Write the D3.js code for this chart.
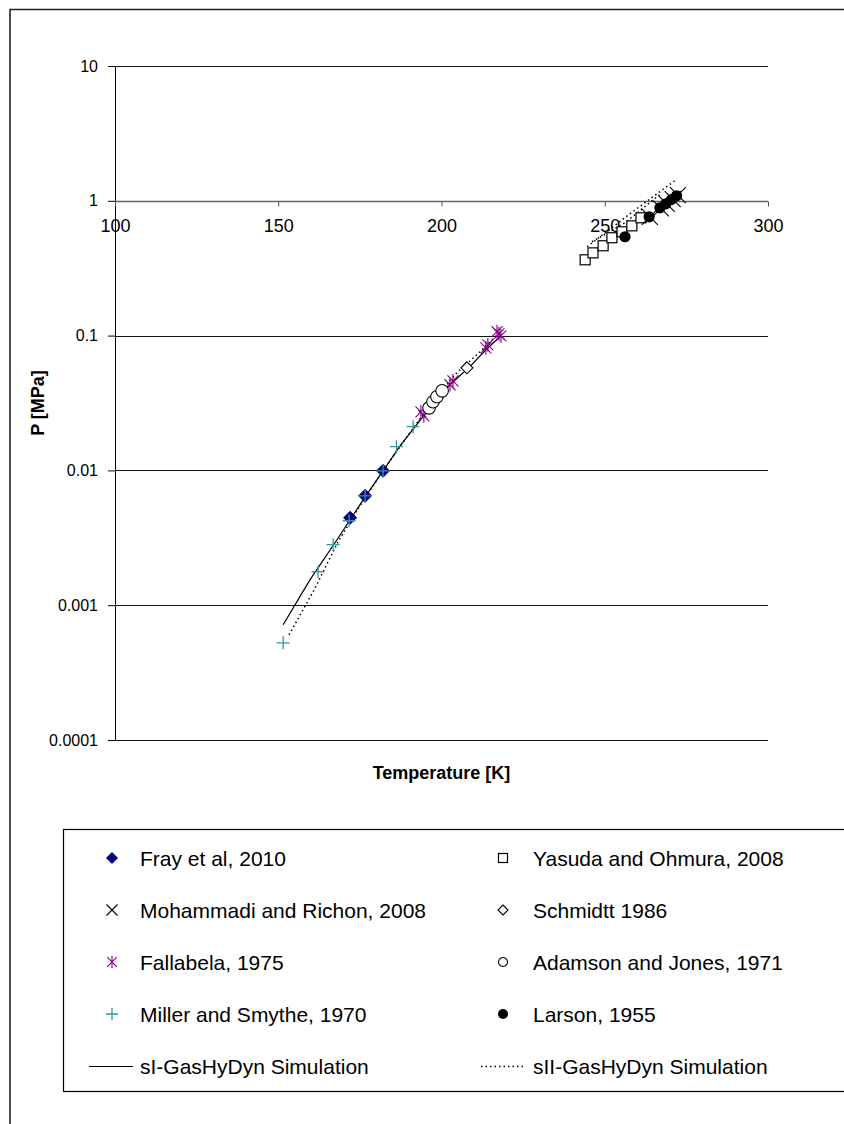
<!DOCTYPE html>
<html>
<head>
<meta charset="utf-8">
<script src="https://cdn.jsdelivr.net/npm/d3@7"></script>
<style>
  html, body { margin: 0; padding: 0; background: #fff; }
  svg { display: block; font-family: "Liberation Sans", Arial, sans-serif; }
</style>
</head>
<body>
<svg id="chart" width="844" height="1124"></svg>
<script>
// Hydrate dissociation pressure vs temperature (log pressure axis)
const xTicks = [100, 150, 200, 250, 300];
const yTicks = [0.0001, 0.001, 0.01, 0.1, 1, 10];
const yTickLabels = ["0.0001", "0.001", "0.01", "0.1", "1", "10"];

// Experimental data sets: temperature [K], pressure [MPa]
const frayT = [172.0, 176.6, 182.1];
const frayP = [0.00445, 0.00648, 0.00993];

const yasudaT = [244.0, 246.4, 249.5, 252.2, 255.3, 258.3, 261.1];
const yasudaP = [0.365, 0.411, 0.464, 0.532, 0.589, 0.652, 0.748];

const mohammadiT = [263.8, 267.2, 269.0, 270.8, 272.4];
const mohammadiP = [0.76, 0.88, 0.95, 1.03, 1.10];

const schmidttT = [207.8];
const schmidttP = [0.0577];

const fallabelaT = [193.7, 194.6, 202.6, 203.5, 213.6, 214.2, 217.0, 217.6, 218.2];
const fallabelaP = [0.0272, 0.0254, 0.0432, 0.0462, 0.0812, 0.0855, 0.107, 0.103, 0.0997];

const adamsonT = [196.2, 197.4, 198.6, 200.2];
const adamsonP = [0.0291, 0.0323, 0.0352, 0.0389];

const millerT = [151.5, 162.2, 166.8, 171.7, 176.6, 182.1, 186.2, 191.3];
const millerP = [0.000526, 0.00177, 0.00281, 0.00423, 0.00648, 0.00993, 0.0150, 0.0211];

const larsonT = [256.2, 263.6, 266.9, 268.7, 270.4, 272.0];
const larsonP = [0.541, 0.761, 0.887, 0.95, 1.02, 1.09];

// Simulation curves (null marks a break between branches)
const sIT = [151.5, 159.7, 168.0, 176.6, 182.1, 187.3, 194.3, 202.6, 208.7, 213.6, 217.9];
const sIP = [0.000716, 0.00154, 0.00306, 0.00637, 0.00993, 0.0152, 0.0250, 0.0432, 0.0588, 0.0785, 0.0980];

const sIIT = [153.3, 161.0, 168.3, 175.0, 182.1, 188.8, 196.5, 204.7, 211.8, 217.9, null,
              244.6, 257.7, 271.8, null,
              246.1, 256.2, 267.5];
const sIIP = [0.000603, 0.00130, 0.00295, 0.00546, 0.00993, 0.0169, 0.0307, 0.0530, 0.0758, 0.1067, null,
              0.456, 0.801, 1.43, null,
              0.497, 0.687, 1.146];

const zip = (T, P) => T.map((t, i) => ({ t, p: P[i] }));

const svg = d3.select("#chart");
const plotLeft = 115, plotRight = 768, plotTop = 66, plotBottom = 740;

const x = d3.scaleLinear().domain([100, 300]).range([plotLeft, plotRight]);
const y = d3.scaleLog().domain([0.0001, 10]).range([plotBottom, plotTop]);

// outer chart border
svg.append("path")
  .attr("d", "M10,1124 V9.5 H844")
  .attr("fill", "none").attr("stroke", "#222").attr("stroke-width", 1.6);

// horizontal gridlines + y ticks
const yAxis = d3.axisLeft(y).tickValues(yTicks)
  .tickFormat((d, i) => yTickLabels[i]).tickSize(7).tickSizeOuter(0);
const gy = svg.append("g").attr("transform", `translate(${plotLeft},0)`).call(yAxis);
gy.select(".domain").attr("stroke", "#000");
gy.selectAll(".tick line").attr("stroke", "#000");
gy.selectAll(".tick text").attr("font-size", 16).attr("fill", "#000")
  .attr("font-family", "Liberation Sans, Arial, sans-serif").attr("x", -17);

svg.append("g").selectAll("line").data(yTicks).join("line")
  .attr("x1", plotLeft).attr("x2", plotRight)
  .attr("y1", d => Math.round(y(d)) + 0.5).attr("y2", d => Math.round(y(d)) + 0.5)
  .attr("stroke", d => (d === 1 ? "#666" : "#111")).attr("stroke-width", d => (d === 1 ? 1.6 : 1.1));

// horizontal axis crosses at P = 1
const xAxis = d3.axisBottom(x).tickValues(xTicks).tickFormat(d3.format("d"))
  .tickSize(5).tickSizeOuter(0);
const gx = svg.append("g").attr("transform", `translate(0,${Math.round(y(1)) + 0.5})`).call(xAxis);
gx.select(".domain").remove();
gx.selectAll(".tick line").attr("stroke", "#555");
gx.selectAll(".tick text").attr("font-size", 18).attr("fill", "#000")
  .attr("font-family", "Liberation Sans, Arial, sans-serif").attr("y", 18);

// axis titles
svg.append("text").attr("x", (plotLeft + plotRight) / 2).attr("y", 779)
  .attr("text-anchor", "middle").attr("font-size", 18).attr("font-weight", "bold")
  .text("Temperature [K]");
svg.append("text").attr("transform", `translate(44,${(plotTop + plotBottom) / 2}) rotate(-90)`)
  .attr("text-anchor", "middle").attr("font-size", 18).attr("font-weight", "bold")
  .text("P [MPa]");

// simulation lines
const line = d3.line().defined(d => d.t !== null).x(d => x(d.t)).y(d => y(d.p));
const plot = svg.append("g");
plot.append("path").datum(zip(sIT, sIP)).attr("d", line)
  .attr("fill", "none").attr("stroke", "#000").attr("stroke-width", 1.2);
plot.append("path").datum(zip(sIIT, sIIP)).attr("d", line)
  .attr("fill", "none").attr("stroke", "#000").attr("stroke-width", 1.5)
  .attr("stroke-dasharray", "1.5,3");

// marker drawers
const markers = {
  diamond: (g, s) => g.append("path").attr("d", `M0,${-s}L${s},0L0,${s}L${-s},0Z`)
    .attr("fill", "#000080").attr("stroke", "#000080"),
  square: (g, s) => g.append("rect").attr("x", -s).attr("y", -s).attr("width", 2 * s).attr("height", 2 * s)
    .attr("fill", "#fff").attr("stroke", "#000").attr("stroke-width", 1.2),
  cross: (g, s) => g.append("path").attr("d", `M${-s},${-s}L${s},${s}M${-s},${s}L${s},${-s}`)
    .attr("stroke", "#000").attr("stroke-width", 1.1),
  odiamond: (g, s) => g.append("path").attr("d", `M0,${-s}L${s},0L0,${s}L${-s},0Z`)
    .attr("fill", "#fff").attr("stroke", "#000").attr("stroke-width", 1.1),
  star: (g, s) => g.append("path").attr("d", `M${-s},${-s}L${s},${s}M${-s},${s}L${s},${-s}M0,${-s * 1.25}L0,${s * 1.25}`)
    .attr("stroke", "#800080").attr("stroke-width", 1.1),
  circle: (g, s) => g.append("circle").attr("r", s)
    .attr("fill", "#fff").attr("stroke", "#000").attr("stroke-width", 1.1),
  plus: (g, s) => g.append("path").attr("d", `M${-s},0L${s},0M0,${-s}L0,${s}`)
    .attr("stroke", "#339999").attr("stroke-width", 1.3),
  dot: (g, s) => g.append("circle").attr("r", s).attr("fill", "#000")
};

const series = [
  { name: "Fray et al, 2010", T: frayT, P: frayP, m: "diamond", s: 6.5, ls: 5.5 },
  { name: "Yasuda and Ohmura, 2008", T: yasudaT, P: yasudaP, m: "square", s: 5, ls: 4.5 },
  { name: "Mohammadi and Richon, 2008", T: mohammadiT, P: mohammadiP, m: "cross", s: 8, ls: 5.5 },
  { name: "Schmidtt 1986", T: schmidttT, P: schmidttP, m: "odiamond", s: 6, ls: 5 },
  { name: "Fallabela, 1975", T: fallabelaT, P: fallabelaP, m: "star", s: 5.5, ls: 4.8 },
  { name: "Adamson and Jones, 1971", T: adamsonT, P: adamsonP, m: "circle", s: 6.3, ls: 4.5 },
  { name: "Miller and Smythe, 1970", T: millerT, P: millerP, m: "plus", s: 6.5, ls: 6 },
  { name: "Larson, 1955", T: larsonT, P: larsonP, m: "dot", s: 5.6, ls: 5 }
];

series.forEach(sr => {
  const g = plot.append("g");
  zip(sr.T, sr.P).forEach(d => {
    const mg = g.append("g").attr("transform", `translate(${x(d.t)},${y(d.p)})`);
    markers[sr.m](mg, sr.s);
  });
});

// legend
const lg = svg.append("g");
lg.append("rect").attr("x", 63.5).attr("y", 829.5).attr("width", 800).attr("height", 262)
  .attr("fill", "#fff").attr("stroke", "#000").attr("stroke-width", 1.2);

const rowY = [858, 910, 962, 1014, 1066];
const colMark = [112, 503], colText = [140, 533];
series.forEach((sr, i) => {
  const col = i % 2, row = Math.floor(i / 2);
  const mg = lg.append("g").attr("transform", `translate(${colMark[col]},${rowY[row]})`);
  markers[sr.m](mg, sr.ls);
  lg.append("text").attr("x", colText[col]).attr("y", rowY[row] + 7.5)
    .attr("font-size", 21).attr("fill", "#000").text(sr.name);
});
lg.append("line").attr("x1", 89).attr("x2", 133).attr("y1", rowY[4] + 0.5).attr("y2", rowY[4] + 0.5)
  .attr("stroke", "#000").attr("stroke-width", 1.2);
lg.append("text").attr("x", colText[0]).attr("y", rowY[4] + 7.5).attr("font-size", 21).text("sI-GasHyDyn Simulation");
lg.append("line").attr("x1", 481).attr("x2", 524).attr("y1", rowY[4] + 0.5).attr("y2", rowY[4] + 0.5)
  .attr("stroke", "#000").attr("stroke-width", 1.5).attr("stroke-dasharray", "1.5,3");
lg.append("text").attr("x", colText[1]).attr("y", rowY[4] + 7.5).attr("font-size", 21).text("sII-GasHyDyn Simulation");
</script>
</body>
</html>
